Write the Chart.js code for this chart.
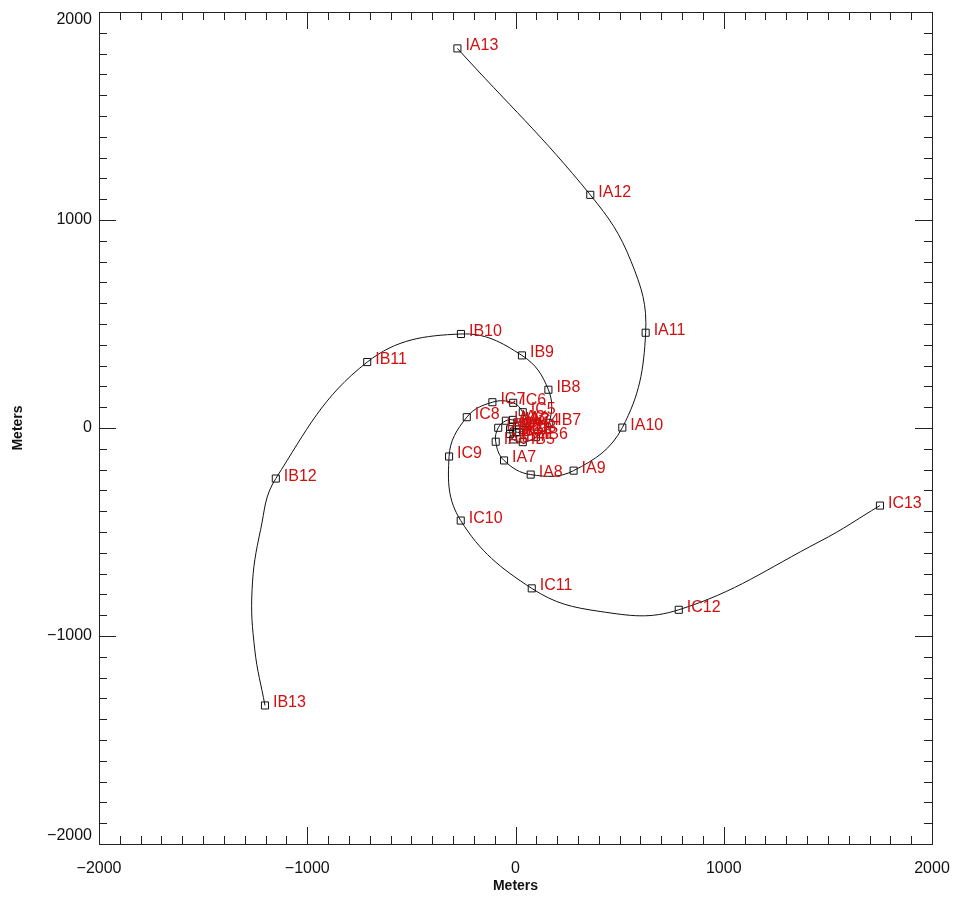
<!DOCTYPE html>
<html>
<head>
<meta charset="utf-8">
<script src="https://cdn.jsdelivr.net/npm/chart.js@4/dist/chart.umd.min.js"></script>
<style>
  html, body { margin: 0; padding: 0; background: #fff; }
  #wrap { width: 953px; height: 899px; }
</style>
</head>
<body>
<div id="wrap"><canvas id="spiral" width="953" height="899"></canvas></div>
<script>
// spiral arms, points 1..13 (meters)
const armA_x = [16, 9, -12, -46, -83, -95, -55, 73, 279, 513, 625, 359, -279];
const armA_y = [12, 27, 39, 35, 1, -66, -156, -224, -205, 2, 458, 1121, 1825];
const armB_x = [-17, -26, -26, -11, 35, 98, 162, 158, 31, -262, -712, -1151, -1203];
const armB_y = [7, -6, -29, -55, -68, -44, 25, 184, 349, 452, 317, -243, -1334];
const armC_x = [2, 18, 39, 53, 35, -11, -111, -234, -319, -263, 78, 784, 1750];
const armC_y = [-19, -21, -9, 23, 76, 121, 124, 52, -137, -445, -771, -874, -373];
const armNames = ["IA", "IB", "IC"];

// extra spots read on the drawn curve (no box); "after" = point number they follow
const spotsA_after = [11];
const spotsA_x = [555];
const spotsA_y = [801];
const spotsB_after = [12, 12, 12];
const spotsB_x = [-1224, -1265, -1252];
const spotsB_y = [-489, -777, -1066];
const spotsC_after = [11, 12];
const spotsC_x = [406, 1462];
const spotsC_y = [-882, -545];

const axisMin = -2000;
const axisMax = 2000;
const majorStep = 1000;
const minorStep = 100;

const FONT = '"Liberation Sans", Arial, sans-serif';

function toPoints(xs, ys) {
  return xs.map((x, i) => ({ x: x, y: ys[i] }));
}

function fmt(v) {
  return v < 0 ? "\u2212" + Math.abs(v) : String(v);
}

function buildCurve(pts, after, xs, ys) {
  const out = [];
  pts.forEach((p, i) => {
    out.push(p);
    after.forEach((a, k) => {
      if (a === i + 1) out.push({ x: xs[k], y: ys[k] });
    });
  });
  return out;
}

const arms = [
  toPoints(armA_x, armA_y),
  toPoints(armB_x, armB_y),
  toPoints(armC_x, armC_y)
];

const curves = [
  buildCurve(arms[0], spotsA_after, spotsA_x, spotsA_y),
  buildCurve(arms[1], spotsB_after, spotsB_x, spotsB_y),
  buildCurve(arms[2], spotsC_after, spotsC_x, spotsC_y)
];

// inward ticks on all four sides + frame
const boxTicks = {
  id: "boxTicks",
  afterDraw(chart) {
    const { ctx, chartArea: a, scales } = chart;
    const sx = scales.x, sy = scales.y;
    ctx.save();
    ctx.strokeStyle = "#222";
    ctx.lineWidth = 1;
    ctx.strokeRect(Math.round(a.left) + 0.5, Math.round(a.top) + 0.5,
      Math.round(a.right - a.left), Math.round(a.bottom - a.top));
    ctx.beginPath();
    for (let v = axisMin; v <= axisMax; v += minorStep) {
      const len = v % majorStep === 0 ? 17 : 8;
      const px = Math.round(sx.getPixelForValue(v)) + 0.5;
      ctx.moveTo(px, a.bottom); ctx.lineTo(px, a.bottom - len);
      ctx.moveTo(px, a.top); ctx.lineTo(px, a.top + len);
      const py = Math.round(sy.getPixelForValue(v)) + 0.5;
      ctx.moveTo(a.left, py); ctx.lineTo(a.left + len, py);
      ctx.moveTo(a.right, py); ctx.lineTo(a.right - len, py);
    }
    ctx.stroke();
    ctx.restore();
  }
};

// red point names next to each box (marker datasets only)
const pointNames = {
  id: "pointNames",
  afterDatasetsDraw(chart) {
    const ctx = chart.ctx;
    ctx.save();
    ctx.font = "16px " + FONT;
    ctx.fillStyle = "#d01010";
    ctx.textBaseline = "alphabetic";
    chart.data.datasets.forEach((ds, di) => {
      if (ds.arm === undefined) return;
      chart.getDatasetMeta(di).data.forEach((el, i) => {
        ctx.fillText(armNames[ds.arm] + (i + 1), el.x + 8, el.y + 2);
      });
    });
    ctx.restore();
  }
};

const lineSets = curves.map((pts, i) => ({
  label: armNames[i] + " curve",
  data: pts,
  showLine: true,
  tension: 0.4,
  borderColor: "#111",
  borderWidth: 1,
  pointRadius: 0
}));

const markSets = arms.map((pts, i) => ({
  label: armNames[i],
  arm: i,
  data: pts,
  showLine: false,
  pointStyle: "rect",
  pointRadius: 5,
  pointBorderWidth: 1,
  pointBorderColor: "#111",
  pointBackgroundColor: "rgba(0,0,0,0)"
}));

new Chart(document.getElementById("spiral"), {
  type: "scatter",
  data: { datasets: lineSets.concat(markSets) },
  options: {
    responsive: false,
    devicePixelRatio: 1,
    animation: false,
    layout: { padding: { top: 12, right: 21, left: 0, bottom: 0 } },
    plugins: {
      legend: { display: false },
      tooltip: { enabled: false }
    },
    scales: {
      x: {
        type: "linear",
        min: axisMin,
        max: axisMax,
        afterFit: s => { s.height = 55; s.paddingLeft = 0; s.paddingRight = 0; },
        grid: { display: false, drawTicks: false },
        border: { display: false },
        ticks: {
          stepSize: majorStep,
          padding: 15,
          color: "#111",
          font: { family: FONT, size: 16 },
          callback: v => fmt(v)
        },
        title: {
          display: true,
          text: "Meters",
          color: "#111",
          font: { family: FONT, size: 14, weight: "bold" },
          padding: { top: 0, bottom: 4 }
        }
      },
      y: {
        type: "linear",
        min: axisMin,
        max: axisMax,
        afterFit: s => { s.width = 99; s.paddingTop = 0; s.paddingBottom = 0; },
        grid: { display: false, drawTicks: false },
        border: { display: false },
        ticks: {
          stepSize: majorStep,
          padding: 7,
          color: "#111",
          font: { family: FONT, size: 16, lineHeight: 1.0 },
          // end labels sit a little inside the frame, as in the original
          callback: v => v === axisMax ? ["", fmt(v)] : v === axisMin ? [fmt(v), ""] : fmt(v)
        },
        title: {
          display: true,
          text: "Meters",
          color: "#111",
          font: { family: FONT, size: 14, weight: "bold" },
          padding: { top: 10, bottom: 0 }
        }
      }
    }
  },
  plugins: [boxTicks, pointNames]
});
</script>
</body>
</html>
